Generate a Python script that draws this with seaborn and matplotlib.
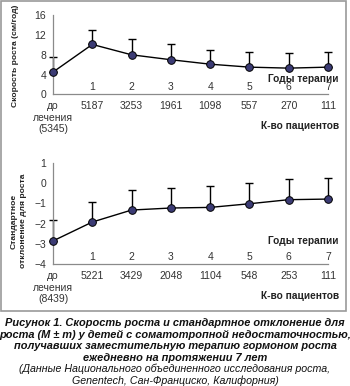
import numpy as np
import seaborn as sns
import matplotlib.pyplot as plt
from matplotlib.patches import Rectangle

# x positions: 0 = до лечения, 1..7 = годы терапии
years = [0, 1, 2, 3, 4, 5, 6, 7]
year_labels = ['', '1', '2', '3', '4', '5', '6', '7']

# скорость роста (см/год), M и +m
growth = [4.5, 10.1, 8.0, 7.0, 6.1, 5.5, 5.3, 5.5]
growth_err = [3.0, 3.0, 3.1, 3.1, 2.9, 3.1, 3.1, 3.1]
growth_n = ['до\nлечения\n(5345)', '5187', '3253', '1961', '1098', '557', '270', '111']

# стандартное отклонение для роста
sds = [-2.85, -1.92, -1.33, -1.23, -1.2, -1.02, -0.82, -0.79]
sds_err = [1.03, 1.0, 1.0, 1.0, 1.05, 1.02, 1.0, 1.02]
sds_n = ['до\nлечения\n(8439)', '5221', '3429', '2048', '1104', '548', '253', '111']

sns.set_style('white')
plt.rcParams['font.family'] = ['Liberation Sans', 'DejaVu Sans']

W, H = 350, 386
fig = plt.figure(figsize=(W / 100, H / 100), dpi=100)


def fx(x):
    return x / W


def fy(y):
    return 1 - y / H


txt = '#333333'
spine = '#8a8a8a'


def panel(ax, vals, errs, counts, ylim, yticks):
    ax.errorbar(years, vals, yerr=[np.zeros(len(errs)), errs], fmt='none',
                ecolor='black', elinewidth=1, capsize=2.6, capthick=1,
                clip_on=False, zorder=2)
    sns.lineplot(x=years, y=vals, ax=ax, color='black', lw=1, marker='o',
                 markersize=5.5, markerfacecolor='#3b3b74',
                 markeredgecolor='black', markeredgewidth=0.7,
                 clip_on=False, zorder=3)
    ax.set_xlim(0, 7)
    ax.set_ylim(*ylim)
    ax.set_yticks(yticks)
    ax.set_xticks(years)
    ax.set_xticklabels(counts)
    ax.tick_params(axis='both', labelsize=7.5, colors=spine, labelcolor=txt,
                   direction='out', length=3, width=0.8, pad=2)
    sns.despine(ax=ax)
    for s in ['left', 'bottom']:
        ax.spines[s].set_color(spine)
        ax.spines[s].set_linewidth(0.9)
    for x, lab in zip(years, year_labels):
        if lab:
            ax.annotate(lab, (x, 0), xycoords=('data', 'axes fraction'),
                        xytext=(0, 2), textcoords='offset points',
                        ha='center', va='bottom', fontsize=7.5, color=txt)


ax1 = fig.add_axes([fx(53), fy(94.3), fx(328) - fx(53), (94.3 - 15.3) / H])
panel(ax1, growth, growth_err, growth_n, (0, 16), [0, 4, 8, 12, 16])

ax2 = fig.add_axes([fx(53), fy(264.3), fx(328) - fx(53), (264.3 - 162.7) / H])
panel(ax2, sds, sds_err, sds_n, (-4, 1), [-4, -3, -2, -1, 0, 1])

bold = dict(fontsize=7.3, fontweight='bold', color='#222222')
fig.text(fx(339), fy(79), 'Годы терапии', ha='right', va='center', **bold)
fig.text(fx(339), fy(126), 'К-во пациентов', ha='right', va='center', **bold)
fig.text(fx(339), fy(240.5), 'Годы терапии', ha='right', va='center', **bold)
fig.text(fx(339), fy(296), 'К-во пациентов', ha='right', va='center', **bold)

ylab = dict(fontsize=6.1, fontweight='bold', color='#222222')
fig.text(fx(15.5), fy(56), 'Скорость роста (см/год)', rotation=90,
         ha='center', va='center', **ylab)
fig.text(fx(18.5), fy(221), 'Стандартное\nотклонение для роста', rotation=90,
         ha='center', va='center', linespacing=1.45, **ylab)

fig.patches.append(Rectangle((fx(1), fy(311)), fx(345), (311 - 1) / H,
                             transform=fig.transFigure, fill=False,
                             edgecolor='#9a9a9a', lw=1.2))

cap_bold = ['Рисунок 1. Скорость роста и стандартное отклонение для',
            'роста (M ± m) у детей с соматотропной недостаточностью,',
            'получавших заместительную терапию гормоном роста',
            'ежедневно на протяжении 7 лет']
cap_norm = ['(Данные Национального объединенного исследования роста,',
            'Genentech, Сан-Франциско, Калифорния)']
for i, line in enumerate(cap_bold):
    fig.text(0.5, fy(323 + 11.6 * i), line, ha='center', va='center',
             fontsize=7.9, fontweight='bold', fontstyle='italic', color='#111111')
for i, line in enumerate(cap_norm):
    fig.text(0.5, fy(369 + 11.5 * i), line, ha='center', va='center',
             fontsize=7.7, fontstyle='italic', color='#111111')

fig.savefig('out.png', dpi=100)
